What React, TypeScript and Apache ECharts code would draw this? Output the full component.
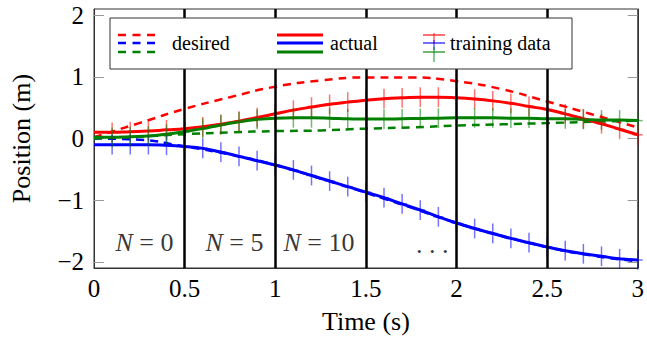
import React, { useEffect, useRef } from "react";
import * as echarts from "echarts";

// ---- data ----
const timeFine = [0, 0.1, 0.2, 0.3, 0.4, 0.5, 0.6, 0.7, 0.8, 0.9, 1.0, 1.1, 1.2, 1.3, 1.4, 1.5, 1.6, 1.7, 1.8, 1.9, 2.0, 2.1, 2.2, 2.3, 2.4, 2.5, 2.6, 2.7, 2.8, 2.9, 3.0];
const redActual = [0.10, 0.10, 0.11, 0.12, 0.14, 0.16, 0.19, 0.23, 0.28, 0.34, 0.40, 0.46, 0.51, 0.555, 0.59, 0.62, 0.645, 0.66, 0.67, 0.67, 0.66, 0.64, 0.61, 0.57, 0.52, 0.47, 0.40, 0.32, 0.24, 0.15, 0.06];
const blueActual = [-0.10, -0.10, -0.10, -0.10, -0.11, -0.13, -0.16, -0.22, -0.29, -0.36, -0.43, -0.51, -0.60, -0.69, -0.78, -0.87, -0.96, -1.06, -1.16, -1.27, -1.37, -1.46, -1.54, -1.62, -1.69, -1.76, -1.82, -1.87, -1.91, -1.95, -1.97];
const greenActual = [0.02, 0.02, 0.03, 0.04, 0.07, 0.11, 0.16, 0.22, 0.27, 0.31, 0.33, 0.335, 0.335, 0.33, 0.32, 0.315, 0.315, 0.32, 0.325, 0.33, 0.335, 0.335, 0.335, 0.33, 0.33, 0.32, 0.32, 0.31, 0.30, 0.30, 0.29];

const timeCoarse = [0, 0.25, 0.5, 0.75, 1.0, 1.25, 1.5, 1.75, 2.0, 2.25, 2.5, 2.75, 3.0];
const redDesired = [0.02, 0.25, 0.48, 0.67, 0.84, 0.94, 0.99, 0.99, 0.93, 0.80, 0.60, 0.39, 0.18];
const blueDesired = [0.0, -0.02, -0.13, -0.26, -0.43, -0.65, -0.88, -1.12, -1.37, -1.58, -1.76, -1.90, -1.99];
const greenDesired = [0.0, 0.03, 0.07, 0.10, 0.12, 0.13, 0.16, 0.18, 0.21, 0.23, 0.25, 0.27, 0.29];

// training data: samples at t = 0.1 ... 3.0 with error half-width
const trainingTimes = timeFine.slice(1);
const redTraining = redActual.slice(1);
const blueTraining = blueActual.slice(1);
const greenTraining = greenActual.slice(1);
const trainingError = 0.16;

const boundaries = [0.5, 1.0, 1.5, 2.0, 2.5];
const yTicks = [-2, -1, 0, 1, 2];
const annotations = [
  { t: 0.278, y: -1.68, text: "{i|N}{n| = 0}" },
  { t: 0.775, y: -1.68, text: "{i|N}{n| = 5}" },
  { t: 1.241, y: -1.68, text: "{i|N}{n| = 10}" },
  { t: 1.866, y: -1.72, text: "{n|. . .}" },
];

const RED = "#ff0000";
const BLUE = "#0000ff";
const GREEN = "#008000";
const FONT = "'Liberation Serif', 'DejaVu Serif', serif";

function zip(xs: number[], ys: number[]) {
  return xs.map((x, i) => [x, ys[i]]);
}

function desiredSeries(color: string, ys: number[]) {
  return {
    type: "line",
    data: zip(timeCoarse, ys),
    smooth: true,
    showSymbol: false,
    symbol: "none",
    lineStyle: { color, width: 2.5, type: [8, 6] },
    z: 2,
  };
}
function actualSeries(color: string, ys: number[]) {
  return {
    type: "line",
    data: zip(timeFine, ys),
    smooth: true,
    showSymbol: false,
    symbol: "none",
    lineStyle: { color, width: 3 },
    z: 3,
  };
}
function trainingSeries(color: string, ys: number[]) {
  return {
    type: "custom",
    data: trainingTimes.map((t, i) => [t, ys[i], trainingError]),
    z: 4,
    renderItem: (params: any, api: any) => {
      const x = api.value(0);
      const y = api.value(1);
      const e = api.value(2);
      const top = api.coord([x, y + e]);
      const bot = api.coord([x, y - e]);
      const mid = api.coord([x, y]);
      return {
        type: "group",
        children: [
          {
            type: "line",
            shape: { x1: top[0], y1: top[1], x2: bot[0], y2: bot[1] },
            style: { stroke: color, lineWidth: 1.5, opacity: 0.55 },
          },
          {
            type: "line",
            shape: { x1: mid[0] - 5, y1: mid[1], x2: mid[0] + 5, y2: mid[1] },
            style: { stroke: color, lineWidth: 1.5, opacity: 0.55 },
          },
        ],
      };
    },
  };
}

function legendGraphics() {
  const rows = [
    { y: 35, c: RED },
    { y: 43, c: BLUE },
    { y: 52, c: GREEN },
  ];
  const els: any[] = [
    {
      type: "rect",
      shape: { x: 110, y: 18, width: 462, height: 51 },
      style: { fill: "#fff", stroke: "#333", lineWidth: 1 },
      z: 100,
    },
  ];
  rows.forEach((r) => {
    els.push({
      type: "line",
      shape: { x1: 118, y1: r.y, x2: 161, y2: r.y },
      style: { stroke: r.c, lineWidth: 2.5, lineDash: [8, 6.5] },
      z: 101,
    });
    els.push({
      type: "line",
      shape: { x1: 277, y1: r.y, x2: 323, y2: r.y },
      style: { stroke: r.c, lineWidth: 3 },
      z: 101,
    });
    els.push({
      type: "line",
      shape: { x1: 423, y1: r.y, x2: 445, y2: r.y },
      style: { stroke: r.c, lineWidth: 1.5, opacity: 0.75 },
      z: 101,
    });
  });
  els.push({ type: "line", shape: { x1: 434, y1: 33, x2: 434, y2: 44 }, style: { stroke: RED, lineWidth: 1.5, opacity: 0.6 }, z: 101 });
  els.push({ type: "line", shape: { x1: 434, y1: 40, x2: 434, y2: 50 }, style: { stroke: BLUE, lineWidth: 1.5, opacity: 0.6 }, z: 101 });
  els.push({ type: "line", shape: { x1: 434, y1: 47, x2: 434, y2: 62 }, style: { stroke: GREEN, lineWidth: 1.5, opacity: 0.6 }, z: 101 });
  const texts = [
    { x: 172, s: "desired" },
    { x: 330, s: "actual" },
    { x: 450, s: "training data" },
  ];
  texts.forEach((t) => {
    els.push({
      type: "text",
      x: t.x,
      y: 43,
      style: { text: t.s, fontFamily: FONT, fontSize: 20, fill: "#000", verticalAlign: "middle", align: "left" },
      z: 101,
    });
  });
  return els;
}

export default function App() {
  const ref = useRef<HTMLDivElement>(null);
  useEffect(() => {
    if (!ref.current) return;
    const chart = echarts.init(ref.current, undefined, { renderer: "svg" });
    const fmtY = (v: number) => (v < 0 ? "\u2212" + Math.abs(v) : String(v));
    const option: any = {
      animation: false,
      backgroundColor: "#fff",
      grid: { left: 93, right: 4, top: 9, bottom: 71, show: true, borderColor: "#333", borderWidth: 1, backgroundColor: "transparent" },
      xAxis: {
        type: "value",
        min: 0,
        max: 3,
        interval: 0.5,
        name: "Time (s)",
        nameLocation: "middle",
        nameGap: 40,
        nameTextStyle: { fontFamily: FONT, fontSize: 26, color: "#000" },
        axisLine: { show: true, onZero: false, lineStyle: { color: "#333", width: 1 } },
        axisTick: { show: false },
        splitLine: { show: false },
        axisLabel: { fontFamily: FONT, fontSize: 25, color: "#000", margin: 8, formatter: (v: number) => String(v) },
      },
      yAxis: [
        {
          type: "value",
          min: -2.1,
          max: 2.1,
          name: "Position (m)",
          nameLocation: "middle",
          nameRotate: 90,
          nameGap: 60,
          nameTextStyle: { fontFamily: FONT, fontSize: 26, color: "#000" },
          axisLine: { show: true, lineStyle: { color: "#333", width: 1 } },
          axisTick: { show: true, inside: true, length: 10, customValues: yTicks, lineStyle: { color: "#999", width: 1 } },
          splitLine: { show: false },
          axisLabel: { fontFamily: FONT, fontSize: 25, color: "#000", margin: 10, customValues: yTicks, formatter: fmtY },
        },
        {
          type: "value",
          min: -2.1,
          max: 2.1,
          position: "right",
          axisLine: { show: true, lineStyle: { color: "#333", width: 1 } },
          axisTick: { show: true, inside: true, length: 10, customValues: yTicks, lineStyle: { color: "#999", width: 1 } },
          splitLine: { show: false },
          axisLabel: { show: false },
        },
      ],
      series: [
        desiredSeries(RED, redDesired),
        desiredSeries(BLUE, blueDesired),
        desiredSeries(GREEN, greenDesired),
        actualSeries(RED, redActual),
        actualSeries(BLUE, blueActual),
        actualSeries(GREEN, greenActual),
        trainingSeries(RED, redTraining),
        trainingSeries(BLUE, blueTraining),
        trainingSeries(GREEN, greenTraining),
        {
          type: "line",
          data: [],
          z: 10,
          markLine: {
            silent: true,
            symbol: ["none", "none"],
            label: { show: false },
            lineStyle: { color: "#000", width: 2.5, type: "solid" },
            data: boundaries.map((b) => ({ xAxis: b })),
          },
        },
        {
          type: "scatter",
          symbolSize: 0,
          z: 11,
          data: annotations.map((a) => ({ value: [a.t, a.y], name: a.text })),
          label: {
            show: true,
            position: "inside",
            formatter: (p: any) => p.name,
            rich: {
              i: { fontFamily: FONT, fontSize: 26, fontStyle: "italic", color: "#000" },
              n: { fontFamily: FONT, fontSize: 26, color: "#000" },
            },
          },
        },
      ],
      graphic: legendGraphics(),
    };
    chart.setOption(option);
    return () => chart.dispose();
  }, []);
  return <div ref={ref} style={{ position: "fixed", left: 0, top: 0, width: 647, height: 339 }} />;
}
